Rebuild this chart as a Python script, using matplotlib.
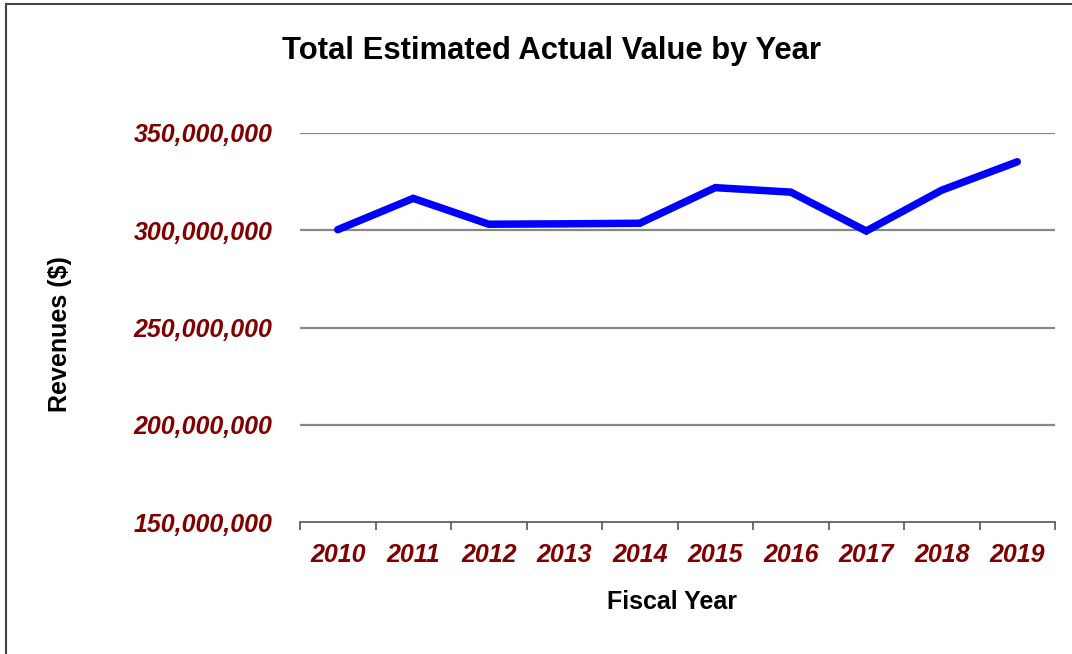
import matplotlib
matplotlib.use("Agg")
import matplotlib.pyplot as plt
from matplotlib.lines import Line2D
from matplotlib.ticker import FuncFormatter

# Fiscal years and total estimated actual value ($)
years = ["2010", "2011", "2012", "2013", "2014", "2015", "2016", "2017", "2018", "2019"]
values = [300_300_000, 316_400_000, 303_100_000, 303_300_000, 303_600_000,
          321_900_000, 319_600_000, 299_600_000, 320_600_000, 335_200_000]
y_ticks = [150_000_000, 200_000_000, 250_000_000, 300_000_000, 350_000_000]

plt.rcParams["font.family"] = ["Liberation Sans", "DejaVu Sans"]
label_red = "#800000"

fig = plt.figure(figsize=(10.72, 6.54), dpi=100)
ax = fig.add_axes([300 / 1072, 1 - 522 / 654, 755 / 1072, 389 / 654])

x = list(range(len(years)))
ax.plot(x, values, color="#0000ff", lw=5.4, solid_capstyle="round",
        solid_joinstyle="miter", zorder=3)

ax.set_xlim(-0.5, len(years) - 0.5)
ax.set_ylim(y_ticks[0], y_ticks[-1])

# gridlines for every tick above the baseline
for v in y_ticks[1:]:
    ax.axhline(v, color="#878787", lw=1.6, zorder=1)

for side in ["top", "right", "left"]:
    ax.spines[side].set_visible(False)
ax.spines["bottom"].set_color("#555555")
ax.spines["bottom"].set_linewidth(1.2)

# labels at category centres, tick marks on the boundaries
ax.set_xticks(x)
ax.set_xticklabels(years)
ax.set_xticks([i - 0.5 for i in range(len(years) + 1)], minor=True)
ax.tick_params(axis="x", which="major", length=0, pad=15)
ax.tick_params(axis="x", which="minor", length=6, width=1.2, color="#555555")

ax.set_yticks(y_ticks)
ax.yaxis.set_major_formatter(FuncFormatter(lambda v, p: f"{v:,.0f}"))
ax.tick_params(axis="y", length=0, pad=20)

for lab in ax.get_xticklabels() + ax.get_yticklabels():
    lab.set_fontsize(18)
    lab.set_fontweight("bold")
    lab.set_fontstyle("italic")
    lab.set_color(label_red)

ax.set_xlabel("Fiscal Year", fontsize=18, fontweight="bold")
ax.xaxis.set_label_coords((672 - 300) / 755, (522 - 602) / 389)
ax.xaxis.label.set_va("center")
ax.set_ylabel("Revenues ($)", fontsize=18, fontweight="bold")
ax.yaxis.set_label_coords((60 - 300) / 755, (522 - 334) / 389)
ax.yaxis.label.set_va("center")

fig.text(552 / 1072, 1 - 51 / 654, "Total Estimated Actual Value by Year",
         ha="center", va="center", fontsize=22.3, fontweight="bold")

# outer chart frame (left and top edges)
fig.add_artist(Line2D([6 / 1072, 6 / 1072], [0, 1 - 4 / 654],
                      transform=fig.transFigure, color="#444444", lw=1.5))
fig.add_artist(Line2D([6 / 1072, 1], [1 - 4 / 654, 1 - 4 / 654],
                      transform=fig.transFigure, color="#444444", lw=1.5))

fig.savefig("out.png", dpi=100)
